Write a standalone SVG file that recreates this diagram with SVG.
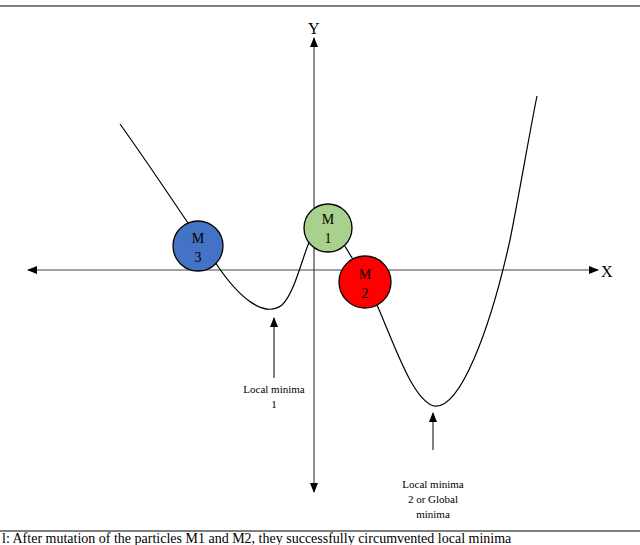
<svg xmlns="http://www.w3.org/2000/svg" width="640" height="545" viewBox="0 0 640 545">
<defs>
<marker id="ar" markerWidth="10" markerHeight="8" refX="9" refY="4" orient="auto-start-reverse" markerUnits="userSpaceOnUse"><path d="M0,0 L10,4 L0,8 Z" fill="#000"/></marker>
</defs>
<style>
.t{font-family:"Liberation Serif",serif;fill:#000;}
.ax{stroke:#444;stroke-width:1.2;fill:none}
.c{stroke:#000;stroke-width:1.3}
</style>
<rect width="640" height="545" fill="#fff"/>
<line x1="0" y1="6" x2="640" y2="6" stroke="#555" stroke-width="1.5"/>
<g id="connectors">
<line class="ax" x1="28" y1="270" x2="598" y2="270" marker-start="url(#ar)" marker-end="url(#ar)"/>
<line class="ax" x1="314" y1="492" x2="314" y2="38" marker-start="url(#ar)" marker-end="url(#ar)"/>
<path d="M120,124 C160,180 185,220 215,262 C240,300 265,318 282,305 C295,292 302,258 310,240 M340,238 C350,255 360,270 368,285 C390,330 410,400 434,406 C460,410 490,330 510,240 C520,190 530,130 537,96" fill="none" stroke="#000" stroke-width="1.2"/>
<line x1="274" y1="378" x2="274" y2="318" stroke="#000" stroke-width="1" marker-end="url(#ar)"/>
<line x1="433" y1="450" x2="433" y2="413" stroke="#000" stroke-width="1" marker-end="url(#ar)"/>
</g>
<text class="t" x="308" y="34" font-size="16" font-family="Liberation Sans,sans-serif">Y</text>
<text class="t" x="601" y="277" font-size="16" font-family="Liberation Sans,sans-serif">X</text>
<g id="M3"><circle class="c" cx="198" cy="246" r="25" fill="#4472c4"/><text class="t" x="198" y="243" font-size="14" text-anchor="middle">M</text><text class="t" x="198" y="262" font-size="14" text-anchor="middle">3</text></g>
<g id="M1"><circle class="c" cx="328" cy="228" r="24" fill="#a9d18e"/><text class="t" x="328" y="224" font-size="14" text-anchor="middle">M</text><text class="t" x="328" y="243" font-size="14" text-anchor="middle">1</text></g>
<g id="M2"><circle class="c" cx="365" cy="282" r="26" fill="#f00"/><text class="t" x="365" y="279" font-size="14" text-anchor="middle">M</text><text class="t" x="365" y="298" font-size="14" text-anchor="middle">2</text></g>
<g id="lm1"><text class="t" x="274" y="393" font-size="11" text-anchor="middle">Local minima</text><text class="t" x="274" y="408" font-size="11" text-anchor="middle">1</text></g>
<g id="lm2"><text class="t" x="433" y="488" font-size="11" text-anchor="middle">Local minima</text><text class="t" x="433" y="503" font-size="11" text-anchor="middle">2 or Global</text><text class="t" x="433" y="518" font-size="11" text-anchor="middle">minima</text></g>
<line x1="0" y1="531" x2="640" y2="531" stroke="#555" stroke-width="1.5"/>
<text class="t" x="2" y="543" font-size="14" font-family="Liberation Sans,sans-serif">l: After mutation of the particles M1 and M2, they successfully circumvented local minima</text>
</svg>
